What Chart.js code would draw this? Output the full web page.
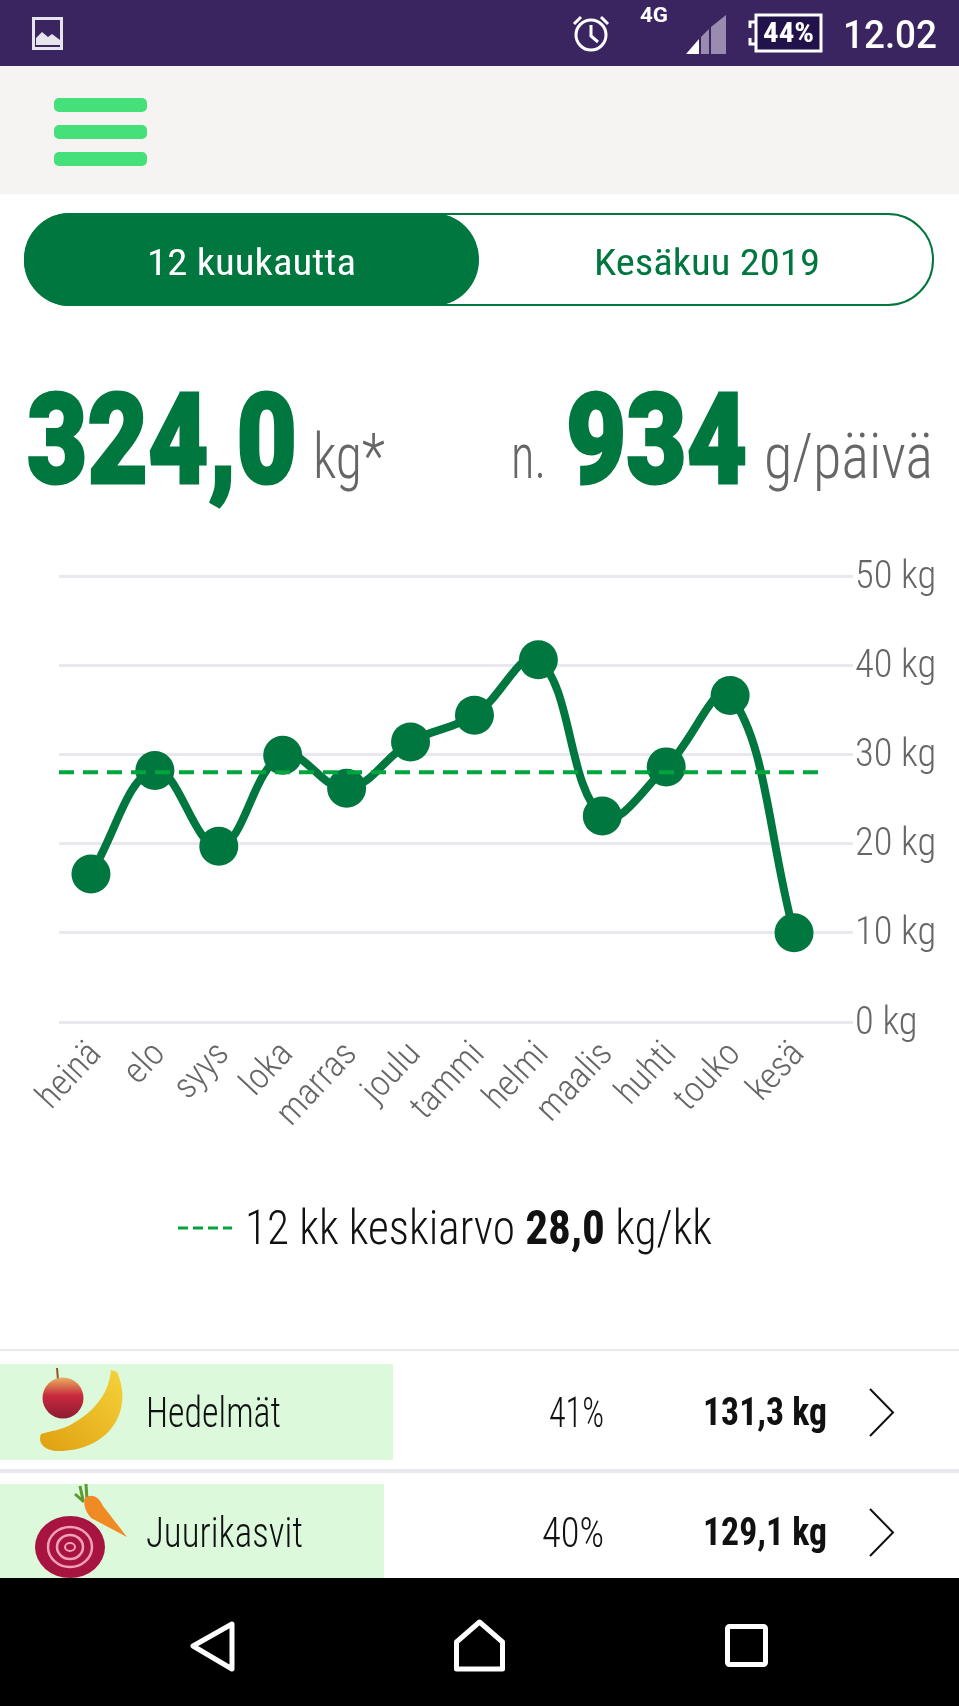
<!DOCTYPE html>
<html lang="fi">
<head>
<meta charset="utf-8">
<title>Kulutus</title>
<script src="https://cdn.jsdelivr.net/npm/chart.js@4"></script>
<style>
html, body { margin: 0; padding: 0; background: #fff; }
#page { position: relative; width: 959px; height: 1706px; overflow: hidden; background: #fff; font-family: "Roboto Condensed", Roboto, sans-serif; }
.box { position: absolute; }
.t { position: absolute; white-space: nowrap; line-height: 1; transform-origin: 0 50%; }
.big { font-family: Roboto, sans-serif; font-size: 127px; font-weight: 900; color: #00773f; -webkit-text-stroke: 3px #00773f; }
.unit { font-size: 63px; font-weight: 300; color: #666; }
.row { font-size: 43px; font-weight: 300; color: #111; }
.kg { font-size: 39px; font-weight: 700; color: #111; }
#chartWrap { position: absolute; left: 0; top: 540px; width: 959px; height: 640px; }
svg { position: absolute; left: 0; top: 0; }
</style>
</head>
<body>
<div id="page">
  <div class="box" style="left:0;top:0;width:959px;height:66px;background:#3a2560"></div>
  <div class="box" style="left:0;top:66px;width:959px;height:128px;background:#f5f4f2"></div>
  <div class="box" style="left:54px;top:98px;width:93px;height:14px;border-radius:5px;background:#45e07a"></div>
  <div class="box" style="left:54px;top:125px;width:93px;height:14px;border-radius:5px;background:#45e07a"></div>
  <div class="box" style="left:54px;top:152px;width:93px;height:14px;border-radius:5px;background:#45e07a"></div>

  <div class="box" style="left:24px;top:213px;width:906px;height:89px;border:2px solid #00773f;border-radius:46px"></div>
  <div class="box" style="left:24px;top:213px;width:455px;height:93px;border-radius:46px;background:#00773f"></div>

  <div class="box" style="left:0;top:1349px;width:959px;height:2px;background:#e8e8ee"></div>
  <div class="box" id="bar0" style="left:0;top:1364px;height:96px;background:#dcf9dc"></div>
  <div class="box" style="left:0;top:1469px;width:959px;height:4px;background:#e8e8ee"></div>
  <div class="box" id="bar1" style="left:0;top:1484px;height:94px;background:#dcf9dc"></div>

  <div id="chartWrap"><canvas id="chart"></canvas></div>

  <svg width="959" height="1706" viewBox="0 0 959 1706">
    <defs>
      <linearGradient id="apple" x1="0" y1="0" x2="0" y2="1">
        <stop offset="0" stop-color="#e8b060"/><stop offset=".45" stop-color="#c8283c"/><stop offset="1" stop-color="#8c1c34"/>
      </linearGradient>
      <linearGradient id="banana" x1="0" y1="1" x2="1" y2="0">
        <stop offset="0" stop-color="#e0a010"/><stop offset="1" stop-color="#f5d23a"/>
      </linearGradient>
    </defs>
    <!-- status bar -->
    <rect x="33.5" y="18.5" width="28" height="30" fill="none" stroke="#e8e4ee" stroke-width="3"/>
    <path d="M36 45 V38 L42 32 L48 37 L52 34 L60 40 V45 Z" fill="#e8e4ee"/>
    <circle cx="591" cy="35" r="15" fill="none" stroke="#fff" stroke-width="3"/>
    <path d="M591 25 V36 L598 42 M574 24 L581 17 M608 24 L601 17" fill="none" stroke="#fff" stroke-width="3"/>
    <path d="M686 54 L699 39 V54 Z" fill="#fff"/>
    <path d="M701 37 L709 29 V54 H701 Z" fill="#9a8cb0"/>
    <path d="M711 27 L726 15 V54 H711 Z" fill="#9a8cb0"/>
    <rect x="756" y="15" width="65" height="36" fill="#22124a" stroke="#fff" stroke-width="3"/>
    <path d="M756 22 H750 V28 M750 38 V44 H756" fill="none" stroke="#fff" stroke-width="3"/>
    <!-- row icons -->
    <path d="M58 1380 L57 1368" stroke="#9a5030" stroke-width="2"/>
    <ellipse cx="63" cy="1398" rx="20.5" ry="20.5" fill="url(#apple)"/>
    <path d="M111 1370 L117 1372 C134 1410 110 1451 58 1451 C46 1451 37 1444 41 1434 C50 1431 62 1430 72 1424 C92 1413 109 1395 111 1370 Z" fill="url(#banana)"/>
    <path d="M80 1486 L83 1500 M86 1484 L87 1500 M75 1494 L84 1502" stroke="#5a9a30" stroke-width="3" fill="none"/>
    <path d="M85 1498 C92 1493 99 1497 103 1506 L127 1537 L91 1518 C85 1511 83 1504 85 1498 Z" fill="#f08a24"/>
    <ellipse cx="70" cy="1547" rx="35" ry="31" fill="#a81440"/>
    <ellipse cx="70" cy="1547" rx="22" ry="20" fill="none" stroke="#f2a0b8" stroke-width="2.5"/>
    <ellipse cx="70" cy="1547" rx="13" ry="12" fill="none" stroke="#f2a0b8" stroke-width="2.5"/>
    <ellipse cx="70" cy="1547" rx="5" ry="4" fill="none" stroke="#f2a0b8" stroke-width="2"/>
    <!-- chevrons -->
    <path d="M870 1389 L893 1412.5 L870 1436" fill="none" stroke="#111" stroke-width="2"/>
    <path d="M870 1509 L893 1532.5 L870 1556" fill="none" stroke="#111" stroke-width="2"/>
    <!-- navigation bar -->
    <rect x="0" y="1578" width="959" height="128" fill="#000"/>
    <path d="M232 1624 L193 1646 L232 1669 Z" fill="none" stroke="#fff" stroke-width="5" stroke-linejoin="round"/>
    <path d="M456.5 1669 V1642 L479.5 1622 L502.5 1642 V1669 Z" fill="none" stroke="#fff" stroke-width="5" stroke-linejoin="round"/>
    <rect x="727.5" y="1626.5" width="38" height="38" rx="2" fill="none" stroke="#fff" stroke-width="5"/>
    <!-- legend dashes -->
    <path d="M178 1228 H232" stroke="#00a63d" stroke-width="3" stroke-dasharray="10 5"/>
  </svg>

  <div class="t" data-x="640" data-y="15" data-w="28" style="font-family:Roboto;font-size:20px;font-weight:700;color:#fff">4G</div>
  <div class="t" data-x="763" data-y="33" data-w="51" style="font-size:28px;font-weight:700;color:#fff">44%</div>
  <div class="t" data-x="843" data-y="35" data-w="94" style="font-family:Roboto;font-size:38px;font-weight:500;color:#fff">12.02</div>

  <div class="t" data-x="147" data-y="262" data-w="209" style="font-size:37px;color:#fff">12 kuukautta</div>
  <div class="t" data-x="594" data-y="262" data-w="226" style="font-size:37px;color:#00773f">Kesäkuu 2019</div>

  <div class="t big" data-x="27" data-y="439" data-w="270">324,0</div>
  <div class="t unit" data-x="313" data-y="456" data-w="72">kg*</div>
  <div class="t unit" data-x="511" data-y="456" data-w="35">n.</div>
  <div class="t big" data-x="566" data-y="439" data-w="181">934</div>
  <div class="t unit" data-x="764" data-y="456" data-w="169">g/päivä</div>

  <div class="t" data-x="245" data-y="1227" data-w="467" style="font-size:49px;font-weight:300;color:#111">12 kk keskiarvo <b style="font-weight:700">28,0</b> kg/kk</div>

  <div class="t row" data-x="146" data-y="1412" data-w="135">Hedelmät</div>
  <div class="t row" data-x="549" data-y="1412" data-w="55">41%</div>
  <div class="t kg" data-x="703" data-y="1412" data-w="124">131,3 kg</div>
  <div class="t row" data-x="146" data-y="1532" data-w="157">Juurikasvit</div>
  <div class="t row" data-x="542" data-y="1532" data-w="62">40%</div>
  <div class="t kg" data-x="703" data-y="1532" data-w="124">129,1 kg</div>
</div>

<script>
var months = ['heinä', 'elo', 'syys', 'loka', 'marras', 'joulu', 'tammi', 'helmi', 'maalis', 'huhti', 'touko', 'kesä'];
var monthlyKg = [16.6, 28.2, 19.7, 29.9, 26.2, 31.4, 34.4, 40.6, 23.1, 28.6, 36.6, 10.0];
var averageKg = 28.0;
var yTicks = [0, 10, 20, 30, 40, 50];
var groupShares = [41, 40];

// green bars behind the group names are the share of the total
groupShares.forEach(function (share, i) {
    document.getElementById('bar' + i).style.width = (959 * share / 100) + 'px';
});

// squeeze the texts to the condensed width of the original
document.querySelectorAll('.t').forEach(function (el) {
    var w = el.getBoundingClientRect().width;
    var sx = parseFloat(el.dataset.w) / w;
    el.style.left = el.dataset.x + 'px';
    el.style.top = (parseFloat(el.dataset.y) - el.offsetHeight / 2) + 'px';
    el.style.transform = 'scaleX(' + sx + ')';
});

var green = '#00773f';
var yFont = {family: '"Roboto Condensed", Roboto, sans-serif', size: 38.5, weight: '300'};
var xFont = {family: '"Roboto Condensed", Roboto, sans-serif', size: 36, weight: '300'};

new Chart(document.getElementById('chart'), {
    type: 'line',
    data: {
        labels: months,
        datasets: [
            {
                label: 'keskiarvo',
                xAxisID: 'xAvg',
                yAxisID: 'y',
                data: [{x: 0, y: averageKg}, {x: 1, y: averageKg}],
                borderColor: '#00a63d',
                borderWidth: 4,
                borderDash: [15, 9],
                pointRadius: 0,
                order: 0
            },
            {
                label: 'kg',
                xAxisID: 'x',
                yAxisID: 'y',
                data: monthlyKg,
                borderColor: green,
                backgroundColor: green,
                borderWidth: 8,
                tension: 0.4,
                pointRadius: 19.5,
                pointBackgroundColor: green,
                pointBorderWidth: 0,
                clip: false,
                order: 1
            }
        ]
    },
    options: {
        responsive: true,
        maintainAspectRatio: false,
        animation: false,
        layout: {padding: {left: 59, top: 36, right: 0, bottom: 0}},
        plugins: {legend: {display: false}, tooltip: {enabled: false}},
        scales: {
            x: {
                offset: true,
                grid: {display: false},
                border: {display: false},
                afterFit: function (axis) { axis.height = 158; },
                ticks: {
                    color: '#666',
                    font: xFont,
                    padding: 4,
                    labelOffset: 5,
                    maxRotation: 47,
                    minRotation: 47,
                    autoSkip: false
                }
            },
            xAvg: {
                type: 'linear',
                display: false,
                min: 0,
                max: 1.008
            },
            y: {
                position: 'right',
                min: 0,
                max: 50,
                afterBuildTicks: function (axis) {
                    axis.ticks = yTicks.map(function (v) { return {value: v}; });
                },
                afterFit: function (axis) { axis.width = 133; },
                grid: {color: '#e8e8ee', lineWidth: 3, tickLength: 27, drawTicks: true},
                border: {display: false},
                ticks: {
                    color: '#666',
                    font: yFont,
                    padding: 2,
                    labelOffset: 2,
                    callback: function (v) { return v + ' kg'; }
                }
            }
        }
    }
});
</script>
</body>
</html>
